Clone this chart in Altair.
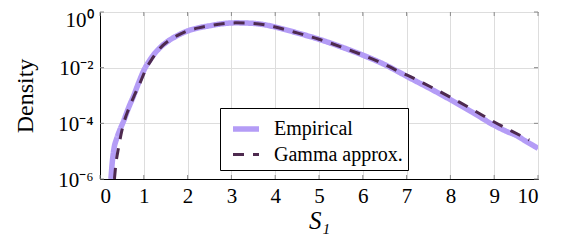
import altair as alt
import pandas as pd

# Empirical density (x, log10 density)
emp_x = [0.25, 0.28, 0.32, 0.38, 0.45, 0.53, 0.65, 0.77, 0.88, 1.00, 1.15, 1.37, 1.55, 1.75, 2.00, 2.25,
         2.52, 2.80, 3.10, 3.40, 3.80, 4.00, 4.50, 5.00, 5.50, 6.00, 6.50, 6.85, 7.00, 7.50, 8.00, 8.50,
         9.00, 9.30, 9.50, 9.70, 10.00]
emp_e = [-6.0, -5.4, -4.9, -4.55, -4.25, -3.95, -3.45, -3.0, -2.55, -2.1, -1.7, -1.28, -1.05, -0.86, -0.68, -0.57,
         -0.49, -0.42, -0.39, -0.40, -0.47, -0.54, -0.75, -0.98, -1.25, -1.55, -1.89, -2.18, -2.31, -2.72, -3.15, -3.60,
         -4.07, -4.30, -4.43, -4.62, -4.90]

# Gamma approximation (x, log10 density)
gam_x = [0.33, 0.36, 0.42, 0.48, 0.55, 0.65, 0.77, 0.90, 1.05, 1.20, 1.37, 1.55, 1.75, 2.00, 2.25,
         2.52, 2.80, 3.10, 3.40, 3.80, 4.00, 4.50, 5.00, 5.50, 6.00, 6.50, 6.85, 7.00, 7.50, 8.00, 8.50,
         9.00, 9.40, 9.80]
gam_e = [-6.0, -5.5, -4.9, -4.4, -3.95, -3.5, -3.05, -2.6, -2.05, -1.66, -1.30, -1.05, -0.86, -0.68, -0.57,
         -0.49, -0.42, -0.39, -0.40, -0.47, -0.54, -0.75, -0.98, -1.25, -1.55, -1.88, -2.16, -2.26, -2.65, -3.06, -3.50,
         -3.95, -4.28, -4.60]

series = ["Empirical", "Gamma approx."]
x_ticks = list(range(0, 11))
y_ticks = [1e-6, 1e-4, 1e-2, 1.0]

df = pd.concat([
    pd.DataFrame({"x": emp_x, "y": [10.0 ** e for e in emp_e], "s": series[0], "o": range(len(emp_x))}),
    pd.DataFrame({"x": gam_x, "y": [10.0 ** e for e in gam_e], "s": series[1], "o": range(len(gam_x))}),
])

FONT = "Liberation Serif"
W, H = 438, 167
TICK = "#8a8a8a"

xscale = alt.Scale(domain=[0, 10], nice=False)
yscale = alt.Scale(type="log", domain=[1e-6, 1], nice=False)

lines = alt.Chart(df).mark_line(clip=True, strokeCap="butt", interpolate="monotone").encode(
    x=alt.X("x:Q", scale=xscale,
            axis=alt.Axis(values=x_ticks, title="S₁", titleFontStyle="italic", titleFontSize=25)),
    y=alt.Y("y:Q", scale=yscale,
            axis=alt.Axis(values=y_ticks, title="Density",
                          labelOffset={"condition": {"test": "datum.value >= 1", "value": 8}, "value": 1},
                          labelExpr="datum.value >= 1 ? '10⁰' : datum.value >= 0.001 ? '10⁻²' : datum.value >= 0.00001 ? '10⁻⁴' : '10⁻⁶'")),
    color=alt.Color("s:N", scale=alt.Scale(domain=series, range=["#b49cf6", "#4e2a4f"]),
                    legend=alt.Legend(title=None, orient="none", legendX=120, legendY=96,
                                      symbolType="stroke", symbolSize=676, symbolOffset=5,
                                      labelFont=FONT, labelFontSize=20, labelColor="black",
                                      labelExpr="datum.label + '\u00a0\u00a0'",
                                      padding=5, rowPadding=0, labelOffset=12,
                                      fillColor="white", strokeColor="black")),
    strokeDash=alt.StrokeDash("s:N", scale=alt.Scale(domain=series, range=[[1, 0], [11, 9]]), legend=alt.Legend(title=None)),
    strokeWidth=alt.StrokeWidth("s:N", scale=alt.Scale(domain=series, range=[5.5, 3]), legend=alt.Legend(title=None)),
    order="o:Q",
)

xt = pd.DataFrame({"t": x_ticks})
yt = pd.DataFrame({"t": y_ticks})
tick_bot = alt.Chart(xt).mark_rule(color=TICK, strokeWidth=1).encode(
    x=alt.X("t:Q", scale=xscale), y=alt.value(H), y2=alt.value(H - 4))
tick_top = alt.Chart(xt).mark_rule(color=TICK, strokeWidth=1).encode(
    x=alt.X("t:Q", scale=xscale), y=alt.value(0), y2=alt.value(4))
tick_left = alt.Chart(yt).mark_rule(color=TICK, strokeWidth=1).encode(
    y=alt.Y("t:Q", scale=yscale), x=alt.value(0), x2=alt.value(4))
tick_right = alt.Chart(yt).mark_rule(color=TICK, strokeWidth=1).encode(
    y=alt.Y("t:Q", scale=yscale), x=alt.value(W), x2=alt.value(W - 4))

chart = alt.layer(lines, tick_bot, tick_top, tick_left, tick_right).properties(
    width=W, height=H,
    autosize=alt.AutoSizeParams(type="none"),
    padding={"left": 92, "top": 4, "right": 15, "bottom": 60},
).configure_view(stroke="black", strokeWidth=1).configure_axis(
    labelFont=FONT, titleFont=FONT, labelFontSize=21, titleFontSize=24,
    labelColor="black", titleColor="black", titleFontWeight="normal",
    domainColor="black", tickSize=0, gridColor="#dddddd", gridWidth=1,
).configure_axisX(labelPadding=6, titlePadding=2).configure_axisY(labelPadding=7, titlePadding=20)

chart.save("out.html", embed_options={"renderer": "svg", "actions": False})
